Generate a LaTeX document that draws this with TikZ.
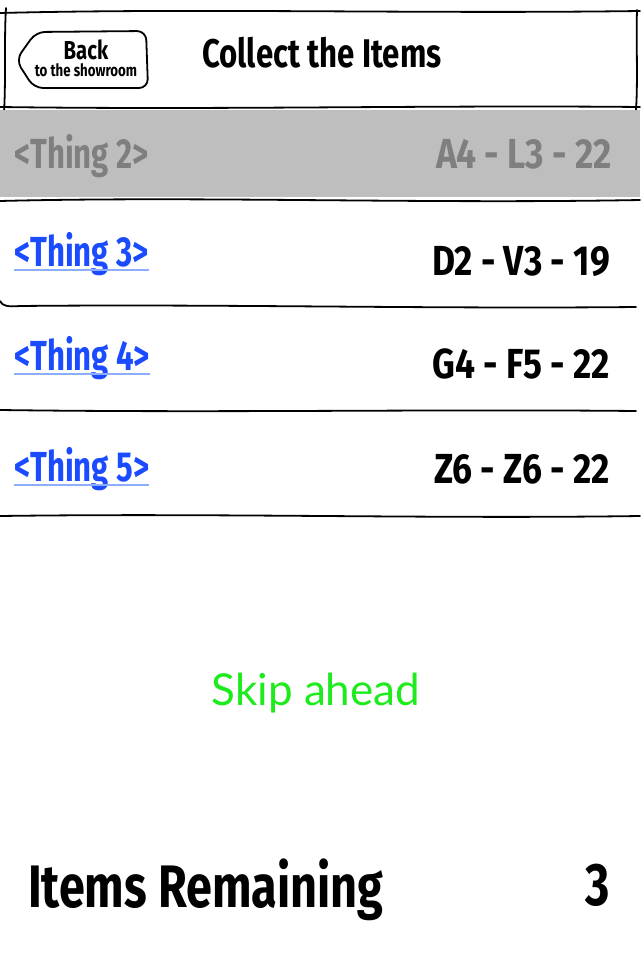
\documentclass[tikz,border=0pt]{standalone}
\usepackage{fontspec}
\setmainfont{Fira Sans}
\newfontfamily\skipfont{Lato}
\usetikzlibrary{positioning,calc}
\definecolor{rowgray}{HTML}{BEBEBE}
\definecolor{thinggray}{HTML}{7F7F7F}
\definecolor{linkblue}{HTML}{1A4BFF}
\definecolor{linkline}{HTML}{8DAEFF}
\definecolor{skipgreen}{HTML}{1EEB1E}
\tikzset{
  sketch/.style={line width=1.8pt, line cap=round, line join=round},
  hand/.style={font=\bfseries\fontsize{#1}{#1}\selectfont, inner sep=0pt, xscale=0.78},
  link/.style={hand=42, text=linkblue, anchor=base west, xscale=0.95},
  rowcode/.style={hand=42, anchor=base east, xscale=1.08},
}

\begin{document}
\begin{tikzpicture}[x=1pt,y=-1pt]
      \useasboundingbox (0,0) rectangle (640,960);

      % header bar
      \begin{scope}
        \draw[sketch] (0,13) .. controls (200,8) and (420,14) .. (640,11);
        \draw[sketch] (6,8) .. controls (4,40) and (6,80) .. (4,112);
        \draw[sketch] (637,10) .. controls (636,40) and (638,80) .. (636,110);
        \draw[sketch] (0,107) .. controls (220,110) and (430,105) .. (640,107);

        \draw[sketch, rounded corners=9pt] (16,60) -- (36,32) -- (146,31) -- (148,88) -- (34,88) -- cycle;
        \node[hand=26, anchor=base] (back) at (86,60) {Back};
        \node[hand=17, anchor=base] (backsub) at (86,77) {to the showroom};
        \node[hand=40, anchor=base west] (title) at (202,68) {Collect the Items};
      \end{scope}

      % selected row
      \fill[rowgray] (0,110) rectangle (640,197);
      \node[link, text=thinggray] (thing2) at (14,168) {<Thing 2>};
      \node[rowcode, text=thinggray] (code2) at (612,168) {A4 - L3 - 22};

      % row separators
      \draw[sketch] (0,201) .. controls (200,196) and (420,204) .. (640,200);
      \draw[sketch] (0,301) .. controls (2,306) and (8,307) .. (20,306) .. controls (220,304) and (430,309) .. (636,307);
      \draw[sketch] (0,410) .. controls (220,413) and (430,409) .. (636,411);
      \draw[sketch] (0,516) .. controls (220,513) and (430,519) .. (640,516);

      % remaining rows
      \foreach \n/\yl/\yc/\code in {3/266/275/D2 - V3 - 19, 4/370/378/G4 - F5 - 22, 5/481/483/Z6 - Z6 - 22} {
        \node[link] (thing\n) at (14,\yl) {<Thing \n>};
        \draw[linkline, line width=1.5pt] (thing\n.base west) ++(0,4) -- ($(thing\n.base east)+(0,4)$);
        \node[rowcode] (code\n) at (610,\yc) {\code};
      }

      \node[font=\skipfont\fontsize{44}{44}\selectfont, text=skipgreen, anchor=base, inner sep=0pt] (skip) at (316,705) {Skip ahead};

      \node[hand=60, anchor=base west] (remain) at (28,907) {Items Remaining};
      \node[hand=60, anchor=base east] (count) at (610,905) {3};
    \end{tikzpicture}
\end{document}
